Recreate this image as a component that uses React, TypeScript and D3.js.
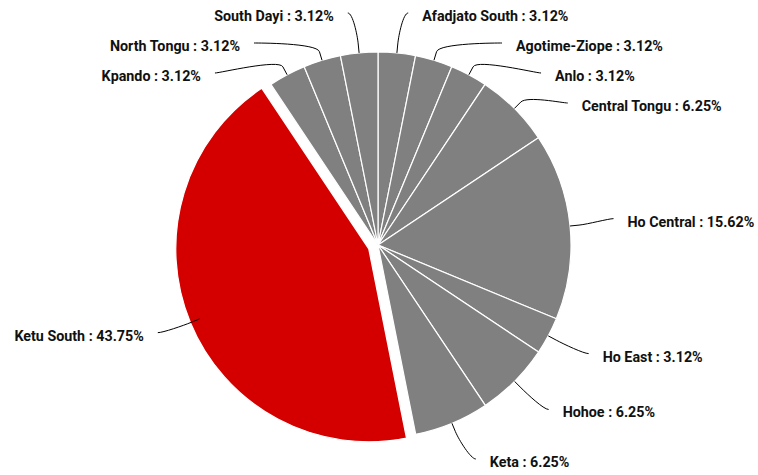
import React from "react";
import * as d3 from "d3";

const categories = [
  "Afadjato South",
  "Agotime-Ziope",
  "Anlo",
  "Central Tongu",
  "Ho Central",
  "Ho East",
  "Hohoe",
  "Keta",
  "Ketu South",
  "Kpando",
  "North Tongu",
  "South Dayi",
];
const percents = [3.12, 3.12, 3.12, 6.25, 15.62, 3.12, 6.25, 6.25, 43.75, 3.12, 3.12, 3.12];
const highlighted = "Ketu South";

const W = 758;
const H = 475;
const CX = 378;
const CY = 245;
const R = 193;
const LABEL_R = 237;
const SLICE_OFFSET = 10;
const TOP = 13;
const BOTTOM = 459;
const SPACING = 30;
const GREY = "#808080";
const RED = "#d40000";

type Lab = {
  i: number;
  mid: number;
  side: number; // 1 right, -1 left
  ny: number;
  y: number;
  clamped: boolean;
};

export default function App() {
  const pie = d3
    .pie<number>()
    .sort(null)
    .value((d) => d)
    .startAngle(0)
    .endAngle(2 * Math.PI);
  const arcs = pie(percents);
  const arcGen = d3.arc<d3.PieArcDatum<number>>().innerRadius(0).outerRadius(R);

  const labs: Lab[] = arcs.map((a, i) => {
    const mid = (a.startAngle + a.endAngle) / 2;
    const side = Math.sin(mid) >= 0 ? 1 : -1;
    const ny = CY - Math.cos(mid) * LABEL_R - 3;
    return { i, mid, side, ny, y: ny, clamped: false };
  });

  [1, -1].forEach((s) => {
    const group = labs.filter((l) => l.side === s).sort((a, b) => a.ny - b.ny);
    let prev = -Infinity;
    group.forEach((l) => {
      let y = Math.max(l.ny, TOP, prev + SPACING);
      if (y > BOTTOM) y = BOTTOM;
      l.y = y;
      prev = y;
    });
    let next = Infinity;
    for (let k = group.length - 1; k >= 0; k--) {
      const l = group[k];
      l.y = Math.min(l.y, next - SPACING, BOTTOM);
      next = l.y;
    }
    group.forEach((l) => {
      l.clamped = l.y <= TOP + 0.01 || l.y >= BOTTOM - 0.01;
    });
  });

  const items = labs.map((l) => {
    const a = arcs[l.i];
    const sx = Math.sin(l.mid);
    const sy = -Math.cos(l.mid);
    let x: number;
    if (l.clamped) {
      x = CX + l.side * (Math.abs(sx) * LABEL_R + 7);
    } else {
      const dy = l.y - CY;
      x = CX + l.side * Math.sqrt(Math.max(0, LABEL_R * LABEL_R - dy * dy));
    }
    const tx = CX + sx * R;
    const ty = CY + sy * R;
    const off = 9;
    const bx = CX + sx * (R + off);
    const by = CY + sy * (R + off);
    const c1x = x + (l.side === 1 ? -5 : 5);
    const path = `M${x},${l.y}C${c1x},${l.y} ${2 * bx - tx},${2 * by - ty} ${bx},${by}L${tx},${ty}`;
    const name = categories[l.i];
    const text = `${name} : ${percents[l.i].toFixed(2)}%`;
    return { a, l, x, path, text, name };
  });

  return (
    <svg
      width={W}
      height={H}
      style={{ position: "absolute", left: 0, top: 0, background: "#fff" }}
      fontFamily="Roboto, sans-serif"
    >
      <g>
        {arcs.map((a, i) => {
          const name = categories[i];
          const mid = (a.startAngle + a.endAngle) / 2;
          const isHi = name === highlighted;
          const dx = isHi ? Math.sin(mid) * SLICE_OFFSET : 0;
          const dy = isHi ? -Math.cos(mid) * SLICE_OFFSET : 0;
          return (
            <path
              key={name}
              d={arcGen(a) || ""}
              transform={`translate(${CX + dx},${CY + dy})`}
              fill={isHi ? RED : GREY}
              stroke="#fff"
              strokeWidth={1.2}
              strokeLinejoin="round"
            />
          );
        })}
      </g>
      <g>
        {items.map((it) => (
          <path key={"c" + it.name} d={it.path} fill="none" stroke="#000" strokeWidth={1} />
        ))}
      </g>
      <g>
        {items.map((it) => (
          <text
            key={"t" + it.name}
            x={it.x + it.l.side * 14}
            y={it.l.y + 3}
            textAnchor={it.l.side === 1 ? "start" : "end"}
            dominantBaseline="central"
            fontSize={14.3}
            fontWeight="bold"
            fill="#111"
          >
            {it.text}
          </text>
        ))}
      </g>
    </svg>
  );
}
